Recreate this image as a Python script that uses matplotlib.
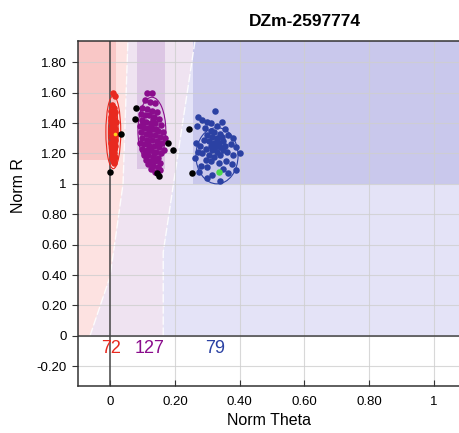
import numpy as np
import matplotlib
matplotlib.use("Agg")
import matplotlib.pyplot as plt
from matplotlib.patches import Ellipse, Polygon, Rectangle
from matplotlib.ticker import FixedLocator, FuncFormatter

plt.rcParams['font.family'] = ['Liberation Sans', 'DejaVu Sans']
plt.rcParams['axes.unicode_minus'] = False

title = "DZm-2597774"

# cluster points (Norm Theta, Norm R)
red_theta = [0.010, 0.014, 0.006, 0.012, 0.004, 0.016, 0.008, 0.011, 0.002, 0.018,
             0.007, 0.013, 0.005, 0.015, 0.009, 0.003, 0.017, 0.010, 0.006, 0.012,
             0.014, 0.008, 0.004, 0.011, 0.016, 0.007, 0.013, 0.009, 0.005, 0.012,
             0.010, 0.015, 0.006, 0.011, 0.008, 0.013, 0.004, 0.009, 0.012, 0.007]
red_r = [1.60, 1.58, 1.52, 1.50, 1.48, 1.47, 1.45, 1.43, 1.42, 1.41,
         1.40, 1.38, 1.37, 1.36, 1.35, 1.34, 1.33, 1.32, 1.31, 1.30,
         1.29, 1.28, 1.27, 1.26, 1.25, 1.24, 1.23, 1.22, 1.21, 1.20,
         1.19, 1.18, 1.17, 1.16, 1.15, 1.14, 1.44, 1.39, 1.46, 1.26]

purple_theta = [0.115, 0.130, 0.108, 0.122, 0.138, 0.100, 0.115, 0.128, 0.145, 0.094,
                0.107, 0.120, 0.135, 0.152, 0.098, 0.112, 0.126, 0.140, 0.158, 0.092,
                0.104, 0.118, 0.132, 0.147, 0.163, 0.096, 0.110, 0.124, 0.138, 0.153,
                0.100, 0.115, 0.129, 0.144, 0.160, 0.093, 0.106, 0.121, 0.135, 0.150,
                0.099, 0.113, 0.127, 0.142, 0.157, 0.104, 0.118, 0.132, 0.147, 0.110,
                0.124, 0.139, 0.154, 0.118, 0.133, 0.147, 0.155, 0.126, 0.140, 0.165,
                0.170, 0.108, 0.119, 0.131, 0.143, 0.102, 0.137, 0.149, 0.116, 0.125]
purple_r = [1.60, 1.60, 1.55, 1.54, 1.53, 1.50, 1.49, 1.48, 1.47, 1.46,
            1.45, 1.45, 1.44, 1.43, 1.42, 1.41, 1.40, 1.40, 1.39, 1.38,
            1.37, 1.37, 1.36, 1.35, 1.34, 1.34, 1.33, 1.32, 1.32, 1.31,
            1.30, 1.29, 1.29, 1.28, 1.27, 1.27, 1.26, 1.25, 1.25, 1.24,
            1.23, 1.22, 1.22, 1.21, 1.20, 1.19, 1.19, 1.18, 1.17, 1.16,
            1.15, 1.15, 1.14, 1.13, 1.12, 1.11, 1.09, 1.10, 1.08, 1.22,
            1.30, 1.21, 1.34, 1.43, 1.36, 1.40, 1.20, 1.26, 1.26, 1.38]

blue_theta = [0.324, 0.272, 0.285, 0.300, 0.312, 0.345, 0.268, 0.292, 0.330, 0.355,
              0.310, 0.322, 0.338, 0.300, 0.315, 0.330, 0.345, 0.365, 0.380, 0.290,
              0.305, 0.320, 0.335, 0.350, 0.265, 0.278, 0.310, 0.325, 0.340, 0.355,
              0.372, 0.390, 0.295, 0.315, 0.330, 0.348, 0.362, 0.270, 0.285, 0.305,
              0.322, 0.340, 0.380, 0.400, 0.262, 0.295, 0.312, 0.335, 0.358, 0.375,
              0.280, 0.300, 0.350, 0.275, 0.315, 0.365, 0.388, 0.300, 0.340, 0.330]
blue_r = [1.48, 1.44, 1.42, 1.41, 1.40, 1.41, 1.38, 1.37, 1.38, 1.36,
          1.35, 1.34, 1.33, 1.32, 1.31, 1.30, 1.31, 1.32, 1.30, 1.29,
          1.28, 1.27, 1.27, 1.28, 1.27, 1.25, 1.25, 1.24, 1.24, 1.25,
          1.26, 1.24, 1.23, 1.22, 1.21, 1.22, 1.21, 1.21, 1.20, 1.19,
          1.18, 1.19, 1.19, 1.20, 1.17, 1.16, 1.15, 1.14, 1.15, 1.13,
          1.12, 1.11, 1.10, 1.08, 1.06, 1.07, 1.09, 1.04, 1.02, 1.28]

# unclustered / no-call samples
black_theta = [0.000, 0.033, 0.080, 0.077, 0.180, 0.194, 0.144, 0.152, 0.244, 0.254]
black_r = [1.08, 1.33, 1.50, 1.43, 1.27, 1.22, 1.07, 1.05, 1.36, 1.07]

green_pt = (0.337, 1.08)
yellow_pt = (0.014, 1.33)

# cluster ellipses: centre theta, centre R, width, height
red_ell = [(0.010, 1.34, 0.046, 0.48), (0.010, 1.34, 0.030, 0.38)]
purple_ell = [(0.129, 1.35, 0.086, 0.44)]
blue_ell = [(0.330, 1.185, 0.130, 0.37)]

# call counts
counts = ["72", "127", "79"]
count_theta = [0.003, 0.122, 0.324]

# genotype region boundaries (R, theta)
edge1_r = [0.0, 0.39, 1.0, 1.94]
edge1_t = [-0.062, 0.0, 0.040, 0.055]
edge2_r = [0.0, 0.55, 1.94]
edge2_t = [0.164, 0.164, 0.262]

xmin, xmax = -0.099, 1.08
ymin, ymax = -0.33, 1.94
xticks = [0, 0.2, 0.4, 0.6, 0.8, 1.0]
yticks = [-0.2, 0, 0.2, 0.4, 0.6, 0.8, 1.0, 1.2, 1.4, 1.6, 1.8]

c_red = '#e8291f'
c_purple = '#8a0c8c'
c_blue = '#2b41a3'

fig = plt.figure(figsize=(4.6, 4.33), dpi=100)
ax = fig.add_axes([78 / 460, 47 / 433, 382 / 460, 345 / 433])
ax.set_xlim(xmin, xmax)
ax.set_ylim(ymin, ymax)

# background regions
red_poly = [(xmin, 0)] + list(zip(edge1_t, edge1_r)) + [(xmin, ymax)]
purple_poly = list(zip(edge1_t, edge1_r)) + list(zip(edge2_t, edge2_r))[::-1]
blue_poly = list(zip(edge2_t, edge2_r)) + [(xmax, ymax), (xmax, 0)]
ax.add_patch(Polygon(red_poly, closed=True, fc='#fde2e1', ec='none', zorder=0))
ax.add_patch(Polygon(purple_poly, closed=True, fc='#efe3f1', ec='none', zorder=0))
ax.add_patch(Polygon(blue_poly, closed=True, fc='#e4e3f7', ec='none', zorder=0))

ax.add_patch(Rectangle((xmin, 1.16), 0.019 - xmin, ymax - 1.16, fc='#f9c7c6', ec='none', zorder=0.5))
ax.add_patch(Rectangle((0.084, 1.10), 0.171 - 0.084, ymax - 1.10, fc='#dcc6e4', ec='none', zorder=0.5))
ax.add_patch(Rectangle((0.256, 1.0), xmax - 0.256, ymax - 1.0, fc='#c9c8ec', ec='none', zorder=0.5))

ax.plot(edge1_t, edge1_r, color='white', lw=1, ls=(0, (6, 2)), alpha=0.85, zorder=0.8)
ax.plot(edge2_t, edge2_r, color='white', lw=1, ls=(0, (6, 2)), alpha=0.85, zorder=0.8)

# grid
for x in xticks[1:]:
    ax.axvline(x, color='#cfcfcf', lw=0.8, alpha=0.8, zorder=1)
for y in yticks:
    ax.axhline(y, color='#cfcfcf', lw=0.8, alpha=0.8, zorder=1)
ax.axvline(0, color='#444444', lw=1.1, zorder=2)
ax.axhline(0, color='#444444', lw=1.1, zorder=2)

# ellipses
for ells, col in [(red_ell, c_red), (purple_ell, c_purple), (blue_ell, c_blue)]:
    for cx, cy, w, h in ells:
        ax.add_patch(Ellipse((cx, cy), w, h, fill=False, ec=col, lw=0.8, zorder=3))

ms = 22
ax.scatter(red_theta, red_r, s=ms, color=c_red, lw=0, zorder=4)
ax.scatter(purple_theta, purple_r, s=ms, color=c_purple, lw=0, zorder=4)
ax.scatter(blue_theta, blue_r, s=ms, color=c_blue, lw=0, zorder=4)
ax.scatter(black_theta, black_r, s=ms, color='black', lw=0, zorder=4)
ax.scatter([green_pt[0]], [green_pt[1]], s=ms, color='#4cd84c', lw=0, zorder=5)
ax.scatter([yellow_pt[0]], [yellow_pt[1]], s=7, color='#ffd21a', lw=0, zorder=5)

for txt, x, col in zip(counts, count_theta, [c_red, c_purple, c_blue]):
    ax.text(x, -0.085, txt, color=col, fontsize=13, ha='center', va='center', zorder=5)

# axes styling
for side in ['left', 'top', 'bottom']:
    ax.spines[side].set_color('#333333')
    ax.spines[side].set_linewidth(1.1)
ax.spines['right'].set_visible(False)

def fmt(v, pos):
    if abs(v - round(v)) < 1e-9:
        return '%d' % round(v)
    return '%.2f' % v

ax.xaxis.set_major_locator(FixedLocator(xticks))
ax.yaxis.set_major_locator(FixedLocator(yticks))
ax.xaxis.set_major_formatter(FuncFormatter(fmt))
ax.yaxis.set_major_formatter(FuncFormatter(fmt))
ax.tick_params(axis='x', direction='in', length=4, pad=7, labelsize=9.5, color='#333333')
ax.tick_params(axis='y', direction='out', length=4, pad=4, labelsize=9.5, color='#333333')

ax.set_xlabel('Norm Theta', fontsize=11.5, labelpad=4)
ax.set_ylabel('Norm R', fontsize=11.5, labelpad=6)
ax.yaxis.set_label_coords(-0.135, 0.58)

fig.text(305 / 460, 1 - 21 / 433, title, fontsize=12.5, fontweight='bold', ha='center', va='center')

fig.savefig('out.png', dpi=100)
